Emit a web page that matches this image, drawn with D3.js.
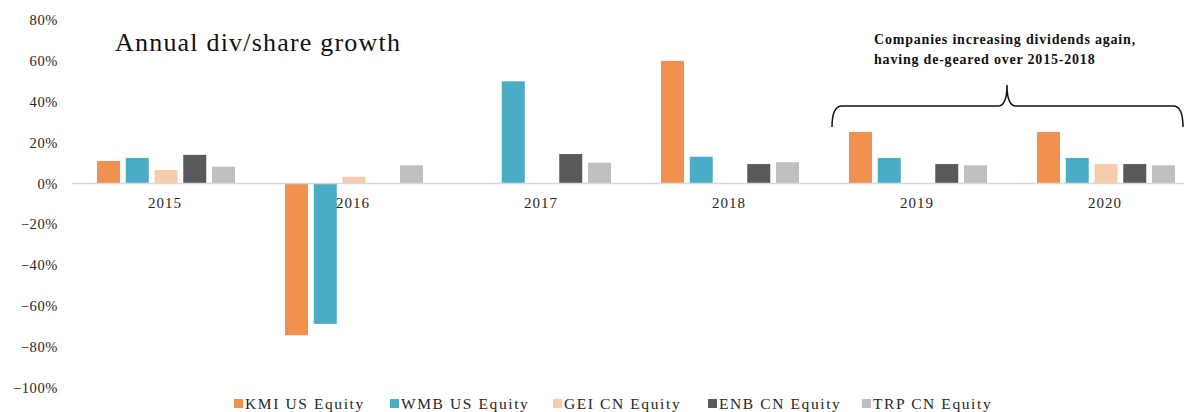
<!DOCTYPE html>
<html>
<head>
<meta charset="utf-8">
<script src="https://cdn.jsdelivr.net/npm/d3@7"></script>
<style>
  body { margin: 0; background: #fff; }
  svg { display: block; }
  svg text { font-family: "Liberation Serif", "DejaVu Serif", serif; }
</style>
</head>
<body>
<svg id="chart" width="1184" height="412"></svg>
<script>
const years = ["2015", "2016", "2017", "2018", "2019", "2020"];
const series = ["KMI US Equity", "WMB US Equity", "GEI CN Equity", "ENB CN Equity", "TRP CN Equity"];
const colors = ["#F09150", "#4BACC6", "#F8CBAD", "#595959", "#BFBFBF"];
const kmi = [0.11, -0.743, null, 0.60, 0.252, 0.252];
const wmb = [0.125, -0.687, 0.50, 0.131, 0.125, 0.125];
const gei = [0.066, 0.033, null, null, null, 0.095];
const enb = [0.14, null, 0.144, 0.095, 0.095, 0.095];
const trp = [0.082, 0.089, 0.102, 0.104, 0.089, 0.089];
const yTicks = [0.8, 0.6, 0.4, 0.2, 0, -0.2, -0.4, -0.6, -0.8, -1.0];

const values = [kmi, wmb, gei, enb, trp];
const rows = years.flatMap((yr, i) =>
  series.map((s, j) => ({ year: yr, series: s, value: values[j][i], color: colors[j] }))
).filter((d) => d.value !== null);

const svg = d3.select("#chart");

const x0 = d3.scaleBand().domain(years).range([71, 1199]);
const x1 = d3.scaleBand().domain(series).range([26, 164]).paddingInner(0.2);
const y = d3.scaleLinear().domain([-1, 0.8]).range([387.8, 20]);

// y axis labels (no line)
const yAxis = svg
  .append("g")
  .attr("transform", "translate(58,0)")
  .call(d3.axisLeft(y).tickValues(yTicks).tickSize(0).tickPadding(0).tickFormat(d3.format(".0%")));
yAxis.select(".domain").remove();
yAxis
  .selectAll("text")
  .attr("font-size", 14.5)
  .attr("fill", "#262626")
  .attr("letter-spacing", 0.6);

// bars
svg
  .append("g")
  .selectAll("rect")
  .data(rows)
  .join("rect")
  .attr("x", (d) => x0(d.year) + x1(d.series))
  .attr("width", x1.bandwidth())
  .attr("y", (d) => y(Math.max(0, d.value)))
  .attr("height", (d) => Math.abs(y(d.value) - y(0)))
  .attr("fill", (d) => d.color);

// zero line
svg
  .append("line")
  .attr("x1", 72)
  .attr("x2", 1184)
  .attr("y1", y(0))
  .attr("y2", y(0))
  .attr("stroke", "#D9D9D9")
  .attr("stroke-width", 1.5);

// category labels
svg
  .append("g")
  .selectAll("text")
  .data(years)
  .join("text")
  .attr("x", (d) => x0(d) + x0.bandwidth() / 2)
  .attr("y", y(0) + 25)
  .attr("text-anchor", "middle")
  .attr("font-size", 15)
  .attr("letter-spacing", 1)
  .attr("fill", "#262626")
  .text((d) => d);

// title
svg
  .append("text")
  .attr("x", 115)
  .attr("y", 51)
  .attr("font-size", 26)
  .attr("letter-spacing", 1.2)
  .attr("fill", "#111")
  .text("Annual div/share growth");

// annotation
const note = svg
  .append("text")
  .attr("font-size", 14)
  .attr("font-weight", "bold")
  .attr("letter-spacing", 0.8)
  .attr("fill", "#111");
note.append("tspan").attr("x", 874).attr("y", 44).text("Companies increasing dividends again,");
note.append("tspan").attr("x", 874).attr("y", 64).text("having de-geared over 2015-2018");

// curly brace
const bp = d3.path();
bp.moveTo(832, 127);
bp.quadraticCurveTo(832, 106, 842, 106);
bp.lineTo(998, 106);
bp.quadraticCurveTo(1007, 106, 1007, 85);
bp.quadraticCurveTo(1007, 106, 1016, 106);
bp.lineTo(1173, 106);
bp.quadraticCurveTo(1183, 106, 1183, 127);
svg
  .append("path")
  .attr("d", bp.toString())
  .attr("fill", "none")
  .attr("stroke", "#111")
  .attr("stroke-width", 1.5);

// legend
const legendX = [234, 390, 553, 708, 862];
const legend = svg
  .append("g")
  .selectAll("g")
  .data(series)
  .join("g")
  .attr("transform", (d, i) => `translate(${legendX[i]},404)`);
legend
  .append("rect")
  .attr("x", 0)
  .attr("y", -5)
  .attr("width", 9)
  .attr("height", 9)
  .attr("fill", (d, i) => colors[i]);
legend
  .append("text")
  .attr("x", 11)
  .attr("y", 5)
  .attr("font-size", 15.5)
  .attr("letter-spacing", 1.6)
  .attr("fill", "#262626")
  .text((d) => d);
</script>
</body>
</html>
